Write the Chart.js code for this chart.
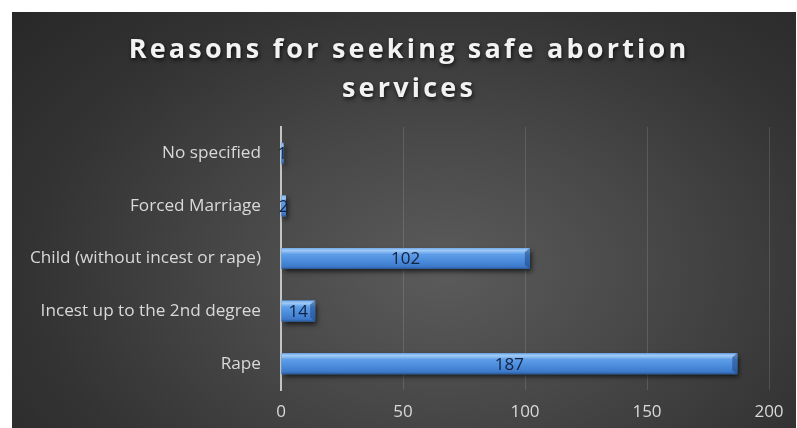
<!DOCTYPE html>
<html>
<head>
<meta charset="utf-8">
<script src="https://cdn.jsdelivr.net/npm/chart.js@4.4.0/dist/chart.umd.min.js"></script>
<style>
    html, body {
        margin: 0;
        padding: 0;
        background: #ffffff;
    }
    #frame {
        position: absolute;
        left: 12px;
        top: 12px;
        width: 784px;
        height: 416px;
        background: radial-gradient(ellipse 75% 95% at 55% 62%, #5b5b5b 0%, #484848 35%, #333333 70%, #272727 100%);
    }
</style>
</head>
<body>
<div id="frame"><canvas id="reasonsChart" width="784" height="416"></canvas></div>
<script>
// 图表数据
const titleLines = ['Reasons for seeking safe abortion', 'services'];
const categories = ['No specified', 'Forced Marriage', 'Child (without incest or rape)', 'Incest up to the 2nd degree', 'Rape'];
const counts = [1, 2, 102, 14, 187];
const xTicks = [0, 50, 100, 150, 200];

const labelFont = '"Open Sans", "Liberation Sans", sans-serif';

// 标题：带字间距和阴影
const headlinePlugin = {
    id: 'headline',
    afterDraw(chart, args, opts) {
        const ctx = chart.ctx;
        ctx.save();
        ctx.font = 'bold 27px ' + labelFont;
        ctx.letterSpacing = '3.2px';
        ctx.fillStyle = '#f2f2f2';
        ctx.textAlign = 'center';
        ctx.textBaseline = 'alphabetic';
        ctx.shadowColor = 'rgba(0,0,0,0.75)';
        ctx.shadowBlur = 4;
        ctx.shadowOffsetX = 1;
        ctx.shadowOffsetY = 2;
        const cx = chart.width / 2 + 5;
        opts.lines.forEach((line, i) => {
            ctx.fillText(line, cx, 46 + i * 39);
        });
        ctx.restore();
    }
};

// 条形阴影
const shadowPlugin = {
    id: 'barShadow',
    beforeDatasetDraw(chart) {
        const ctx = chart.ctx;
        ctx.save();
        ctx.shadowColor = 'rgba(0,0,0,0.7)';
        ctx.shadowBlur = 5;
        ctx.shadowOffsetX = 2;
        ctx.shadowOffsetY = 3;
    },
    afterDatasetDraw(chart) {
        chart.ctx.restore();
    }
};

// 条形立体高光 + 数值标签
const bevelPlugin = {
    id: 'bevel',
    afterDatasetsDraw(chart) {
        const ctx = chart.ctx;
        const meta = chart.getDatasetMeta(0);
        meta.data.forEach((bar, i) => {
            const { x, y, base, height } = bar.getProps(['x', 'y', 'base', 'height'], true);
            const top = y - height / 2;
            const w = x - base;

            ctx.save();
            const grad = ctx.createLinearGradient(0, top, 0, top + height);
            grad.addColorStop(0, '#72a9ea');
            grad.addColorStop(0.12, '#a0cbf6');
            grad.addColorStop(0.3, '#5e9ee8');
            grad.addColorStop(0.6, '#4b8cdc');
            grad.addColorStop(0.88, '#3e7acb');
            grad.addColorStop(1, '#2a5896');
            ctx.fillStyle = grad;
            ctx.fillRect(base, top, w, height);

            // 右端斜面
            if (w > 6) {
                ctx.beginPath();
                ctx.moveTo(x - 5, top + 4);
                ctx.lineTo(x, top);
                ctx.lineTo(x, top + height);
                ctx.lineTo(x - 5, top + height - 4);
                ctx.closePath();
                ctx.fillStyle = 'rgba(30,70,130,0.55)';
                ctx.fill();
            }

            ctx.font = '17px ' + labelFont;
            ctx.fillStyle = '#13223f';
            ctx.textAlign = 'center';
            ctx.textBaseline = 'middle';
            ctx.fillText(String(counts[i]), (x + base) / 2, y + 1);
            ctx.restore();
        });
    }
};

const ctx = document.getElementById('reasonsChart').getContext('2d');

new Chart(ctx, {
    type: 'bar',
    data: {
        labels: categories,
        datasets: [{
            data: counts,
            backgroundColor: '#4b8cdc',
            borderWidth: 0,
            barPercentage: 0.4,
            categoryPercentage: 1
        }]
    },
    options: {
        indexAxis: 'y',
        responsive: false,
        animation: false,
        layout: {
            padding: { top: 115, right: 27, bottom: 0, left: 0 }
        },
        plugins: {
            legend: { display: false },
            tooltip: { enabled: false },
            headline: { lines: titleLines }
        },
        scales: {
            x: {
                min: 0,
                max: 200,
                afterBuildTicks: scale => {
                    scale.ticks = xTicks.map(v => ({ value: v }));
                },
                afterFit: scale => {
                    scale.height = 38;
                },
                grid: {
                    color: 'rgba(255,255,255,0.13)',
                    lineWidth: 1,
                    drawTicks: false
                },
                border: { display: false },
                ticks: {
                    color: '#d9d9d9',
                    padding: 12,
                    font: { family: labelFont, size: 17 }
                }
            },
            y: {
                afterFit: scale => {
                    scale.width = 269;
                },
                grid: { display: false },
                border: { color: '#c4c4c4', width: 2 },
                ticks: {
                    color: '#d9d9d9',
                    padding: 12,
                    font: { family: labelFont, size: 17.2 }
                }
            }
        }
    },
    plugins: [headlinePlugin, shadowPlugin, bevelPlugin]
});
</script>
</body>
</html>
